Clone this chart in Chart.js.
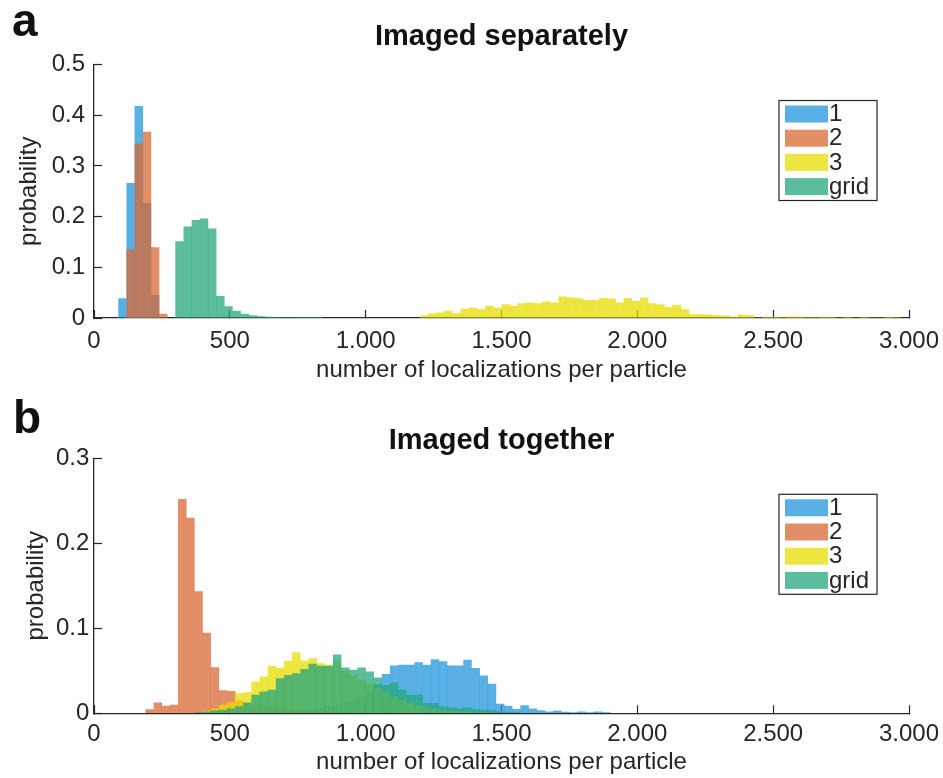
<!DOCTYPE html>
<html>
<head>
<meta charset="utf-8">
<script src="https://cdn.jsdelivr.net/npm/chart.js@4.4.0/dist/chart.umd.min.js"></script>
<style>
  body { margin: 0; background: #fff; }
  #wrap { position: relative; width: 943px; height: 778px; }
  #wrap canvas { position: absolute; left: 0; }
  .letter { position: absolute; font: bold 46px "Liberation Sans", Arial, sans-serif; line-height: 46px; color: #111; z-index: 2; }
</style>
</head>
<body>
<div id="wrap">
  <canvas id="chartA" width="943" height="395" style="top:0"></canvas>
  <canvas id="chartB" width="943" height="383" style="top:395px"></canvas>
  <div class="letter" style="left:12px;top:-3px">a</div>
  <div class="letter" style="left:13px;top:394px">b</div>
</div>
<script>
const binWidth = 30
const seriesLabels = ['1', '2', '3', 'grid']
const seriesColors = ['rgba(32,149,219,0.75)', 'rgba(216,105,53,0.75)', 'rgba(231,220,0,0.75)', 'rgba(37,167,125,0.75)']
const xTickValues = [0, 500, 1000, 1500, 2000, 2500, 3000]
const yTicksSeparate = [0, 0.1, 0.2, 0.3, 0.4, 0.5]
const yTicksTogether = [0, 0.1, 0.2, 0.3]

// a: imaged separately (first bin edge of each series, then probability per bin)
const sepStarts = [90, 120, 1200, 300]
const sepBlue = [0.0386, 0.266, 0.418, 0.227, 0.045]
const sepOrange = [0.135, 0.344, 0.367, 0.139, 0.008]
const sepYellow = [0.0046, 0.0085, 0.0105, 0.014, 0.009, 0.018, 0.020, 0.017, 0.024, 0.020,
  0.027, 0.024, 0.029, 0.030, 0.029, 0.032, 0.030, 0.042, 0.040, 0.0385,
  0.035, 0.035, 0.039, 0.038, 0.030, 0.039, 0.033, 0.040, 0.029, 0.027,
  0.022, 0.026, 0.017, 0.007, 0.007, 0.0065, 0.005, 0.0046, 0.002, 0.0065,
  0.005, 0, 0.002, 0.002, 0.001, 0.0026, 0.002, 0.0013, 0.0007, 0.0005,
  0.0005, 0, 0.0005, 0, 0.0005, 0, 0, 0.0005, 0.001]
const sepGrid = [0.151, 0.180, 0.193, 0.196, 0.176, 0.043, 0.023, 0.014, 0.008, 0.005,
  0.003, 0.002, 0.0015, 0.001, 0.0008, 0.0005, 0.0005, 0.0005]

// b: imaged together
const togStarts = [700, 190, 400, 370]
const togBlue = [0.002, 0.003, 0.004, 0.005, 0.006, 0.008, 0.010, 0.013, 0.016, 0.020,
  0.025, 0.034, 0.046, 0.056, 0.057, 0.057, 0.060, 0.057, 0.0635, 0.061,
  0.056, 0.056, 0.0627, 0.053, 0.0443, 0.0345, 0.011, 0.0088, 0.005, 0.0092,
  0.0055, 0.0035, 0.002, 0.003, 0.0015, 0.001, 0.002, 0.001, 0.002, 0.001]
const togOrange = [0.0047, 0.0125, 0.0086, 0.010, 0.252, 0.230, 0.1435, 0.0945, 0.054, 0.027,
  0.026, 0.015, 0.012, 0.010, 0.009, 0.008, 0.007, 0.006, 0.005, 0.004,
  0.003, 0.003, 0.002, 0.002, 0.001]
const togYellow = [0.003, 0.0055, 0.010, 0.013, 0.0235, 0.0247, 0.0372, 0.043, 0.0556, 0.0533,
  0.0615, 0.0717, 0.0615, 0.0647, 0.0588, 0.0569, 0.062, 0.05, 0.045, 0.04,
  0.035, 0.03, 0.025, 0.02, 0.016, 0.012, 0.009, 0.007, 0.005, 0.004,
  0.003, 0.002, 0.002, 0.001, 0.001]
const togGrid = [0.001, 0.002, 0.003, 0.004, 0.0055, 0.0082, 0.0125, 0.0215, 0.0255, 0.0274,
  0.041, 0.045, 0.047, 0.052, 0.058, 0.0556, 0.0556, 0.069, 0.0537, 0.051,
  0.0537, 0.049, 0.042, 0.033, 0.036, 0.0274, 0.0215, 0.0215, 0.0118, 0.012,
  0.0078, 0.0065, 0.0055, 0.0067, 0.0047, 0.004, 0.0035, 0.002, 0.0015, 0.001]

const fontFamily = '"Liberation Sans", Arial, sans-serif'
const ink = '#262626'
Chart.defaults.font.family = fontFamily
Chart.defaults.color = ink

function toBins(start, values) {
    return values.map((p, i) => ({ x: start + binWidth * (i + 0.5), y: p }))
}

function fmtThousands(v) {
    if (v < 1000) return String(v)
    return Math.floor(v / 1000) + '.' + String(v % 1000).padStart(3, '0')
}

// MATLAB style legend box inside the axes, top right
const boxLegend = {
    id: 'boxLegend',
    afterDatasetsDraw(chart, args, opts) {
        const { ctx, chartArea } = chart
        const x = chartArea.right - opts.right - opts.width
        const y = chartArea.top + opts.top
        ctx.save()
        ctx.fillStyle = '#fff'
        ctx.fillRect(x, y, opts.width, opts.height)
        ctx.strokeStyle = ink
        ctx.lineWidth = 1.2
        ctx.strokeRect(x, y, opts.width, opts.height)
        ctx.font = '24px ' + fontFamily
        ctx.textBaseline = 'middle'
        chart.data.datasets.forEach((ds, i) => {
            const rowY = y + 5 + i * 24.2
            ctx.fillStyle = ds.backgroundColor
            ctx.fillRect(x + 6, rowY, 43, 17)
            ctx.fillStyle = ink
            ctx.fillText(ds.label, x + 50, rowY + 9)
        })
        ctx.restore()
    }
}

function makeChart(id, p) {
    const datasets = p.series.map((values, i) => ({
        label: seriesLabels[i],
        data: toBins(p.starts[i], values),
        backgroundColor: seriesColors[i],
        borderWidth: 0,
        inflateAmount: 0.17,
        grouped: false,
        barPercentage: 1,
        categoryPercentage: 1,
        order: 4 - i,
    }))
    return new Chart(document.getElementById(id), {
        type: 'bar',
        data: { datasets },
        options: {
            responsive: false,
            animation: false,
            layout: { padding: { left: 0, right: 34, top: 0, bottom: 0 } },
            plugins: {
                legend: { display: false },
                tooltip: { enabled: false },
                title: {
                    display: true,
                    fullSize: false,
                    text: p.title,
                    color: '#111',
                    font: { size: 29, weight: 'bold' },
                    padding: p.titlePad,
                },
                boxLegend: { width: 98, height: 100, top: 36, right: 32 },
            },
            scales: {
                x: {
                    type: 'linear',
                    offset: false,
                    min: 0,
                    max: 3000,
                    z: 1,
                    afterBuildTicks: s => { s.ticks = xTickValues.map(v => ({ value: v })) },
                    // keep the plot area fixed, the last label may hang over the edge
                    afterFit: s => { s.height = p.xHeight; s.paddingLeft = 0; s.paddingRight = 0 },
                    ticks: { autoSkip: false, maxRotation: 0, padding: p.xTickPad, font: { size: 24 }, callback: v => fmtThousands(v) },
                    grid: { drawOnChartArea: false, offset: false, tickLength: -8, tickColor: ink, tickWidth: 1.2 },
                    border: { color: ink, width: 1.3 },
                    title: { display: true, text: 'number of localizations per particle', font: { size: 24 }, padding: { top: 0, bottom: p.xTitlePad } },
                },
                y: {
                    min: 0,
                    max: p.yTicks[p.yTicks.length - 1],
                    z: 1,
                    afterBuildTicks: s => { s.ticks = p.yTicks.map(v => ({ value: v })) },
                    afterFit: s => { s.width = 94 },
                    ticks: { padding: p.yTickPad, font: { size: 24 }, callback: v => v === 0 ? '0' : v.toFixed(1) },
                    grid: { drawOnChartArea: false, tickLength: -8, tickColor: ink, tickWidth: 1.2 },
                    border: { color: ink, width: 1.3 },
                    title: { display: true, text: 'probability', font: { size: 24 }, padding: { top: p.yTitlePad, bottom: 0 } },
                },
            },
        },
        plugins: [boxLegend],
    })
}

makeChart('chartA', {
    title: 'Imaged separately',
    starts: sepStarts,
    series: [sepBlue, sepOrange, sepYellow, sepGrid],
    yTicks: yTicksSeparate,
    titlePad: { top: 19.6, bottom: 10.1 },
    xHeight: 77,
    xTickPad: 17,
    xTitlePad: 10.5,
    yTickPad: 17,
    yTitlePad: 14.9,
})

makeChart('chartB', {
    title: 'Imaged together',
    starts: togStarts,
    series: [togBlue, togOrange, togYellow, togGrid],
    yTicks: yTicksTogether,
    titlePad: { top: 28.4, bottom: 0.1 },
    xHeight: 64.7,
    xTickPad: 14.5,
    xTitlePad: 0.8,
    yTickPad: 12.7,
    yTitlePad: 22.2,
})
</script>
</body>
</html>
